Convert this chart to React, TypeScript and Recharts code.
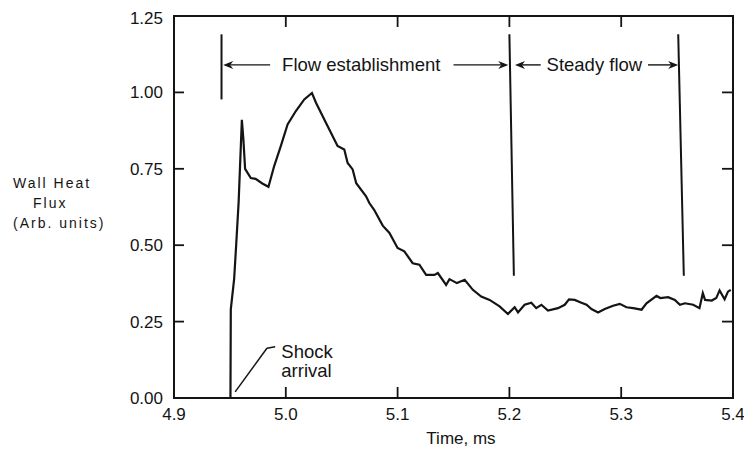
import React from 'react';
import { LineChart, Line, XAxis, YAxis, ReferenceLine, ReferenceDot } from 'recharts';

// wall heat flux trace
const times = [
  4.9505, 4.9508, 4.9538, 4.9556, 4.9578, 4.9607, 4.962, 4.9636, 4.9687, 4.973,
  4.979, 4.9845, 4.9896, 4.9956, 5.0016, 5.009, 5.0165, 5.0234, 5.027, 5.036,
  5.0434, 5.0463, 5.0523, 5.0553, 5.0598, 5.063, 5.0718, 5.0747, 5.079, 5.0867,
  5.0927, 5.1, 5.106, 5.1135, 5.1195, 5.1255, 5.133, 5.136, 5.1434, 5.1464,
  5.153, 5.16, 5.1673, 5.1748, 5.1823, 5.1912, 5.1987, 5.2047, 5.2077, 5.2136,
  5.2196, 5.224, 5.2286, 5.2345, 5.2435, 5.2495, 5.2533, 5.2584, 5.2644, 5.269,
  5.2734, 5.2793, 5.2853, 5.2927, 5.2987, 5.3047, 5.3107, 5.3182, 5.3226, 5.3316,
  5.335, 5.342, 5.348, 5.3525, 5.357, 5.3644, 5.37, 5.373, 5.375, 5.381,
  5.385, 5.388, 5.3925, 5.3955, 5.398,
];
const flux = [
  0, 0.29, 0.39, 0.5, 0.64, 0.91, 0.85, 0.75, 0.72, 0.717,
  0.702, 0.691, 0.759, 0.825, 0.895, 0.939, 0.977, 0.998, 0.966, 0.9,
  0.846, 0.825, 0.813, 0.769, 0.748, 0.703, 0.66, 0.638, 0.616, 0.564,
  0.54, 0.491, 0.48, 0.441, 0.436, 0.403, 0.403, 0.409, 0.37, 0.389,
  0.376, 0.387, 0.354, 0.332, 0.321, 0.3, 0.275, 0.297, 0.28, 0.305,
  0.312, 0.294, 0.305, 0.286, 0.294, 0.305, 0.323, 0.321, 0.312, 0.305,
  0.291, 0.28, 0.291, 0.302, 0.308, 0.297, 0.294, 0.289, 0.31, 0.334,
  0.327, 0.33, 0.321, 0.305, 0.31, 0.305, 0.294, 0.343, 0.321, 0.319,
  0.327, 0.352, 0.323, 0.348, 0.354,
];

const xTicks = [4.9, 5.0, 5.1, 5.2, 5.3, 5.4];
const yTicks = [0, 0.25, 0.5, 0.75, 1.0, 1.25];

// phase markers: [t at top, t at bottom, top value, bottom value]
const markers = [
  [4.9425, 4.9425, 1.19, 0.977],
  [5.2, 5.204, 1.19, 0.4],
  [5.351, 5.356, 1.19, 0.4],
];
// arrows: [t from, t to, value]
const arrows = [
  [4.986, 4.944, 1.09],
  [5.15, 5.199, 1.09],
  [5.228, 5.205, 1.09],
  [5.324, 5.351, 1.09],
];
const labels = [
  { t: 5.0675, v: 1.09, text: 'Flow establishment', anchor: 'middle' },
  { t: 5.276, v: 1.09, text: 'Steady flow', anchor: 'middle' },
  { t: 4.996, v: 0.151, text: 'Shock', anchor: 'start' },
  { t: 4.996, v: 0.089, text: 'arrival', anchor: 'start' },
];
const shockLeader = [
  [4.9547, 0.02, 4.9831, 0.163],
  [4.9831, 0.163, 4.9905, 0.168],
];

const data = times.map((t, i) => ({ t, q: flux[i] }));

const INK = '#141414';
const FONT = '"Liberation Sans", Arial, sans-serif';

const W = 744;
const H = 446;
const M = { top: 8, right: 19, bottom: 55, left: 165 };
// plot box (axes take 1px each)
const PL = M.left + 1;
const PR = W - M.right;
const PT = M.top;
const PB = H - M.bottom - 1;
const XMIN = xTicks[0];
const XMAX = xTicks[xTicks.length - 1];
const YMIN = yTicks[0];
const YMAX = yTicks[yTicks.length - 1];
const px = (t: number) => PL + ((t - XMIN) / (XMAX - XMIN)) * (PR - PL);
const py = (v: number) => PB - ((v - YMIN) / (YMAX - YMIN)) * (PB - PT);

// box frame with inward ticks on all four sides
const Frame = () => (
  <svg
    width={W}
    height={H}
    style={{ position: 'absolute', left: 0, top: 0, pointerEvents: 'none' }}
  >
    <rect x={PL} y={PT} width={PR - PL} height={PB - PT} fill="none" stroke={INK} strokeWidth={2} />
    {xTicks.slice(1, -1).map((t) => (
      <g key={`xt-${t}`}>
        <line x1={px(t)} x2={px(t)} y1={PB} y2={PB - 11} stroke={INK} strokeWidth={1.8} />
        <line x1={px(t)} x2={px(t)} y1={PT} y2={PT + 11} stroke={INK} strokeWidth={1.8} />
      </g>
    ))}
    {yTicks.slice(1, -1).map((v) => (
      <g key={`yt-${v}`}>
        <line x1={PL} x2={PL + 10} y1={py(v)} y2={py(v)} stroke={INK} strokeWidth={1.8} />
        <line x1={PR} x2={PR - 11} y1={py(v)} y2={py(v)} stroke={INK} strokeWidth={1.8} />
      </g>
    ))}
  </svg>
);

const Arrow = (p: any) => {
  const { x1, y1, x2, y2 } = p;
  const dx = x2 - x1;
  const dy = y2 - y1;
  const len = Math.sqrt(dx * dx + dy * dy) || 1;
  const ux = dx / len;
  const uy = dy / len;
  const hx = x2 - ux * 10;
  const hy = y2 - uy * 10;
  const bx = x2 - ux * 7;
  const by = y2 - uy * 7;
  return (
    <g>
      <line x1={x1} y1={y1} x2={bx} y2={by} stroke={INK} strokeWidth={1.4} />
      <polygon
        points={`${x2},${y2} ${hx - uy * 4},${hy + ux * 4} ${bx},${by} ${hx + uy * 4},${hy - ux * 4}`}
        fill={INK}
      />
    </g>
  );
};

export default function App() {
  return (
    <div style={{ position: 'relative', width: W, height: H, fontFamily: FONT }}>
      <LineChart width={W} height={H} data={data} margin={M}>
        <XAxis
          dataKey="t"
          type="number"
          domain={[XMIN, XMAX]}
          ticks={xTicks}
          tickFormatter={(v: number) => v.toFixed(1)}
          height={1}
          tickSize={-11}
          tickMargin={21}
          axisLine={false}
          tickLine={false}
          tick={{ fill: INK, fontSize: 17, fontFamily: FONT }}
          allowDataOverflow
          label={{
            content: () => (
              <text x={453} y={430} textAnchor="middle" dominantBaseline="central" fill={INK} fontSize={17} fontFamily={FONT}>
                Time, ms
              </text>
            ),
          }}
        />
        <YAxis
          type="number"
          domain={[YMIN, YMAX]}
          ticks={yTicks}
          tickFormatter={(v: number) => v.toFixed(2)}
          width={1}
          tickSize={-10}
          tickMargin={21}
          axisLine={false}
          tickLine={false}
          tick={{ fill: INK, fontSize: 17, fontFamily: FONT }}
          label={{
            content: () => (
              <text fill={INK} fontSize={14} fontFamily={FONT} letterSpacing={2} dominantBaseline="central">
                <tspan x={5} y={175}>Wall Heat</tspan>
                <tspan x={25} y={195}>Flux</tspan>
                <tspan x={5} y={215}>(Arb. units)</tspan>
              </text>
            ),
          }}
        />
        {markers.map((m, i) => (
          <ReferenceLine
            key={`m-${i}`}
            segment={[{ x: m[0], y: m[2] }, { x: m[1], y: m[3] }]}
            stroke={INK}
            strokeWidth={2}
            ifOverflow="visible"
          />
        ))}
        {arrows.map((a, i) => (
          <ReferenceLine
            key={`a-${i}`}
            segment={[{ x: a[0], y: a[2] }, { x: a[1], y: a[2] }]}
            shape={Arrow}
            ifOverflow="visible"
          />
        ))}
        {shockLeader.map((s, i) => (
          <ReferenceLine
            key={`s-${i}`}
            segment={[{ x: s[0], y: s[1] }, { x: s[2], y: s[3] }]}
            stroke={INK}
            strokeWidth={1.5}
            ifOverflow="visible"
          />
        ))}
        {labels.map((l, i) => (
          <ReferenceDot
            key={`l-${i}`}
            x={l.t}
            y={l.v}
            r={1}
            shape={(p: any) => (
              <text
                x={p.cx}
                y={p.cy}
                textAnchor={l.anchor}
                dominantBaseline="central"
                fill={INK}
                fontSize={18.5}
                fontFamily={FONT}
              >
                {l.text}
              </text>
            )}
          />
        ))}
        <Line
          dataKey="q"
          type="linear"
          stroke={INK}
          strokeWidth={2.2}
          dot={false}
          activeDot={false}
          isAnimationActive={false}
        />
      </LineChart>
      <Frame />
    </div>
  );
}
